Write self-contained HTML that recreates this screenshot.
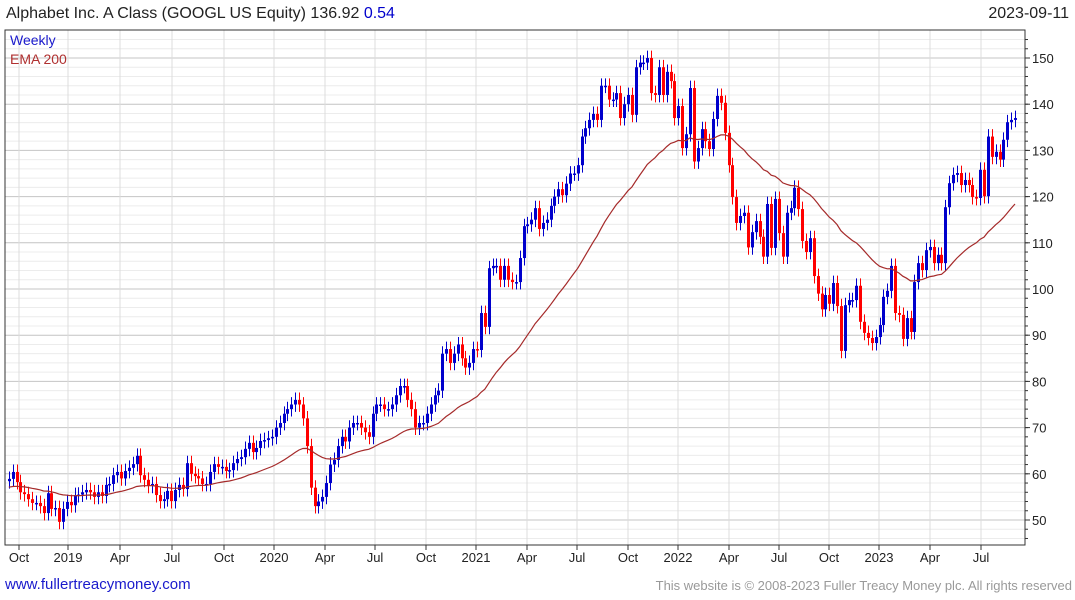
<!DOCTYPE html>
<html><head><meta charset="utf-8"><style>
body{margin:0;background:#fff;font-family:"Liberation Sans",sans-serif;}
#wrap{position:relative;width:1075px;height:600px;overflow:hidden;}
.t{position:absolute;white-space:nowrap;}
</style></head><body>
<div id="wrap">
<div class="t" style="left:6px;top:5px;font-size:16px;color:#222">Alphabet Inc. A Class (GOOGL US Equity) 136.92 <span style="color:#0000cc">0.54</span></div>
<div class="t" style="right:6px;top:5px;font-size:16px;color:#222">2023-09-11</div>
<div class="t" style="left:5px;top:576px;font-size:15px;color:#1a1acc">www.fullertreacymoney.com</div>
<div class="t" style="right:3px;top:578px;font-size:13px;color:#999">This website is © 2008-2023 Fuller Treacy Money plc. All rights reserved</div>
<svg id="svg" width="1075" height="600" style="position:absolute;left:0;top:0"></svg>
</div>
<script>
const closes=[
58.9,60.4,58.2,56,55.6,54.5,53.7,53.7,53,51.5,55.8,52.4,52.6,49.6,52.4,53.9,53.2,55.4,55.5,56,56.5,56,55,56,55.2,57.6,57.8,59.7,60.4,59,60.6,61.3,62.1,63.9,59.7,58.7,57.4,57.8,55.4,54.1,54.5,56.3,54.1,56.5,57.6,56.7,62.3,60,59.5,59,57.8,57.8,60.4,62.1,61.5,61.5,60.6,60.8,62.3,63.2,63.6,65.4,66.7,64.7,65.6,67.1,67.3,67.7,
68,70,71,73,74,75,76,75,72,66,57,53,54,55,58,62,63,66,68,67,70,71,71,70,69,68,73,75,75,74,74,75,77,79,79,76,74,70,71,71,73,75,77,78,86,87,84,86,88,85,83,84,
87,86.8,94.8,91.8,104.5,105,105,102,105,102,101.5,101.5,106.7,113.6,114,115,117.5,113,114.3,115,118,120,121.6,120.3,122.8,125,125,126.8,133,134.8,136.6,137.9,136.6,144,144,141,141,142.4,137,140,142,137.7,148,149,149,150,142.4,142,148,142,147,145,137,139.6,130.5,133.5,
143.5,127.6,130.5,134.6,132,130.3,136.8,141.8,140.3,133.8,126.8,119.9,114.3,115.8,116.5,109,112.3,114.7,111.3,107,118.4,108.9,119.5,112.1,107,116.5,117.5,121.9,117.3,110.4,108,111,102.8,99,
95.6,98.7,96.8,101.3,96.3,86.6,96.5,97.6,97.6,100.7,92.9,90.5,89.4,88.3,89.6,92.2,98.3,99.6,105,94.8,94.4,89.2,93.7,90.7,101.5,105.6,104.1,108.4,109.1,105.6,107.4,105.6,117.7,122.9,124.7,125.1,122.5,123.6,122.5,119.9,119.7,125.8,120.1,133,128.6,129.7,128,132.3,136.1,136.6,137];
const yTicks=[50,60,70,80,90,100,110,120,130,140,150];
const xLabels=["Oct","2019","Apr","Jul","Oct","2020","Apr","Jul","Oct","2021","Apr","Jul","Oct","2022","Apr","Jul","Oct","2023","Apr","Jul"];
const xLabelPos=[19,68,120,172,224,274,325,375,426,476,527,577,628,678,729,779,829,879,930,981];
const svg=document.getElementById('svg');const NS='http://www.w3.org/2000/svg';
function mk(t,a,p){const e=document.createElementNS(NS,t);for(const k in a)e.setAttribute(k,a[k]);(p||svg).appendChild(e);return e;}
const L=5,R=1025,T=30,B=545;
const yS=v=>520-(v-50)*4.62;
const n=closes.length;const xS=i=>1015-(n-1-i)*3.87;
const grid=mk('g',{});
for(let v=46;v<=154;v+=2){const y=yS(v);if(y<T||y>B)continue;mk('line',{x1:L,x2:R,y1:y,y2:y,stroke:v%10==0?'#c4c4c4':'#ececec','stroke-width':1},grid);}
xLabelPos.forEach(x=>mk('line',{x1:x,x2:x,y1:T,y2:B,stroke:'#dcdcdc'},grid));
mk('rect',{x:L,y:T,width:R-L,height:B-T,fill:'none',stroke:'#333'});
yTicks.forEach(v=>{const y=yS(v);mk('line',{x1:R,x2:R+5,y1:y,y2:y,stroke:'#333'});
const t=mk('text',{x:R+7,y:y+5,'font-size':13,fill:'#222','font-family':'Liberation Sans'});t.textContent=v;
});
for(let v=46;v<=154;v+=2){const y=yS(v);if(y<T||y>B)continue;mk('line',{x1:R,x2:R+3,y1:y,y2:y,stroke:'#333'});}
xLabels.forEach((s,i)=>{const x=xLabelPos[i];mk('line',{x1:x,x2:x,y1:B,y2:B+5,stroke:'#333'});
const t=mk('text',{x:x,y:B+17,'font-size':13,fill:'#222','text-anchor':'middle','font-family':'Liberation Sans'});t.textContent=s;
});
const cg=mk('g',{});
for(let i=0;i<n;i++){const o=i?closes[i-1]:closes[0]-0.5,c=closes[i];const up=c>=o;const col=up?'#0000cc':'#ff0000';
const x=Math.round(xS(i))+0.5;const hi=Math.max(o,c)+1.6,lo=Math.min(o,c)-1.6;
const w=mk('line',{x1:x,x2:x,y1:yS(hi),y2:yS(lo),stroke:col,'stroke-width':1},cg);

const top=yS(Math.max(o,c)),bot=yS(Math.min(o,c));
const r=mk('rect',{x:x-1.5,y:top,width:3,height:Math.max(1.5,bot-top),fill:col},cg);
}
let e=57;const a=2/41;let pts=[];
for(let i=0;i<n;i++){e=e+a*(closes[i]-e);pts.push(xS(i).toFixed(1)+','+yS(e).toFixed(1));}
const ema=mk('polyline',{points:pts.join(' '),fill:'none',stroke:'#a52a2a','stroke-width':1.2});

const l1=mk('text',{x:10,y:45,'font-size':14,fill:'#1a1acc','font-family':'Liberation Sans'});l1.textContent='Weekly';

const l2=mk('text',{x:10,y:64,'font-size':14,fill:'#b03030','font-family':'Liberation Sans'});l2.textContent='EMA 200';

</script></body></html>
